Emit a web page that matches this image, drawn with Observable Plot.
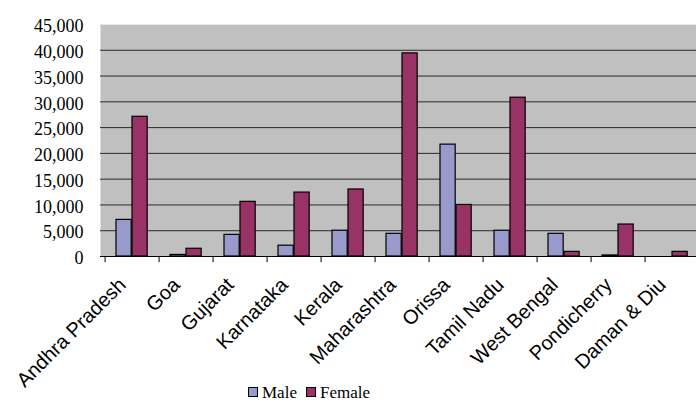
<!DOCTYPE html>
<html>
<head>
<meta charset="utf-8">
<script src="https://cdn.jsdelivr.net/npm/d3@7"></script>
<script src="https://cdn.jsdelivr.net/npm/@observablehq/plot@0.6"></script>
<style>
  html, body { margin: 0; padding: 0; background: #fff; }
  #wrap { position: relative; width: 696px; height: 403px; overflow: hidden; }
  #legend { position: absolute; left: 248px; top: 384px; font-family: "Liberation Serif", "Times New Roman", serif; font-size: 17px; line-height: 17px; color: #000; white-space: nowrap; }
  .sw { display: inline-block; width: 8px; height: 8px; border: 1px solid #000; margin-right: 4px; vertical-align: 1px; }
</style>
</head>
<body>
<div id="wrap"></div>
<script>
const states = ["Andhra Pradesh", "Goa", "Gujarat", "Karnataka", "Kerala", "Maharashtra", "Orissa", "Tamil Nadu", "West Bengal", "Pondicherry", "Daman & Diu"];
const male   = [7100, 300, 4200, 2100, 5000, 4400, 21700, 5000, 4400, 200, 0];
const female = [27100, 1500, 10600, 12400, 13000, 39400, 10000, 30800, 900, 6200, 900];
const yTicks = [0, 5000, 10000, 15000, 20000, 25000, 30000, 35000, 40000, 45000];
const gridTicks = [5000, 10000, 15000, 20000, 25000, 30000, 35000, 40000];
const seriesNames = ["Male", "Female"];
const seriesColors = ["#9999CC", "#993366"];

const rows = states.map((s, i) => ({state: s, male: male[i], female: female[i]}));

const W = 696, H = 385, mL = 100, mT = 24, yBottom = 256;
const xRange = [100, 703];
const bw = (xRange[1] - xRange[0]) / states.length;
const fmt = d3.format(",");
const serif = "Liberation Serif";
const sans = "Liberation Sans";

const chart = Plot.plot({
  width: W,
  height: H,
  marginLeft: mL,
  marginRight: 0,
  marginTop: mT,
  marginBottom: H - yBottom,
  x: {type: "band", domain: states, range: xRange, padding: 0, axis: null},
  y: {domain: [0, 45000], axis: null},
  style: {overflow: "visible", background: "transparent"},
  marks: [
    Plot.frame({fill: "#C0C0C0", stroke: null}),
    Plot.ruleY([45000], {stroke: "#e6e6e6", strokeWidth: 1}),
    Plot.ruleY(gridTicks, {stroke: "#2a2a2a", strokeWidth: 1}),
    Plot.barY(rows, {x: "state", y: "male", fill: seriesColors[0], stroke: "#000", strokeWidth: 1.2,
      insetLeft: 11, insetRight: bw - 27}),
    Plot.barY(rows, {x: "state", y: "female", fill: seriesColors[1], stroke: "#000", strokeWidth: 1.2,
      insetLeft: 27, insetRight: bw - 43}),
    Plot.ruleY([0], {stroke: "#000", strokeWidth: 1.2}),
    Plot.ruleX(states, {x: d => d, dx: -bw / 2, y1: 0, y2: -1200, stroke: "#000", strokeWidth: 1, clip: false}),
    Plot.text(yTicks, {y: d => d, frameAnchor: "left", dx: -17, dy: 2, textAnchor: "end", text: d => fmt(d),
      fontSize: 18, fontFamily: serif, fill: "#000"}),
    Plot.text(states, {x: d => d, y: 0, text: d => d, rotate: -45, textAnchor: "end",
      dx: -10, dy: 25, fontSize: 20, fontFamily: sans, fill: "#000"})
  ]
});
const wrap = document.getElementById("wrap");
wrap.appendChild(chart);

const legend = document.createElement("div");
legend.id = "legend";
legend.innerHTML = seriesNames.map((n, i) =>
  `<span class="sw" style="background:${seriesColors[i]}"></span><span style="margin-right:9px">${n}</span>`).join("");
wrap.appendChild(legend);
</script>
</body>
</html>
